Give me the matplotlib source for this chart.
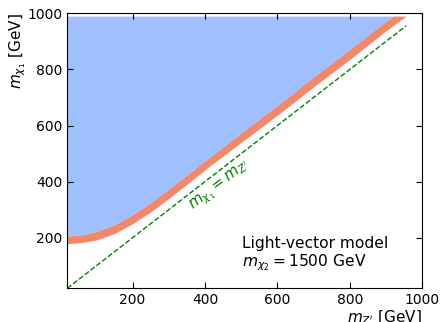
import matplotlib
matplotlib.use('Agg')
import matplotlib.pyplot as plt
import numpy as np

# Exclusion band (m_Z' in GeV)
band_x = [20, 60, 100, 150, 200, 250, 300, 414, 500, 608, 700, 802, 900, 955]
band_low = [179, 183, 192, 215, 250, 292, 340, 456, 540, 645, 738, 838, 938, 990]
band_high = [206, 210, 222, 246, 282, 325, 374, 488, 574, 680, 773, 874, 972, 1025]

diag = [20, 955]
y_top = 990

# Formatting
blue = '#a0bfff'
red = '#f0886c'

figure: plt.Figure = plt.figure(figsize=(4.41, 3.22), dpi=100)
ax: plt.Axes = figure.add_axes([0.1526, 0.1047, 0.805, 0.854])

bx = np.array(band_x, dtype=float)
lo = np.array(band_low, dtype=float)
hi = np.array(band_high, dtype=float)
fine_x = np.linspace(bx[0], bx[-1], 400)
fine_lo = np.interp(fine_x, bx, lo)
fine_hi = np.interp(fine_x, bx, hi)

# Allowed region (blue) above the band, band itself (red)
ax.fill_between(fine_x, np.minimum(fine_hi, y_top), y_top,
                color=blue, lw=0, zorder=1)
ax.fill_between(fine_x, np.minimum(fine_lo, y_top), np.minimum(fine_hi, y_top),
                color=red, lw=0, zorder=2)

ax.plot(diag, diag, color='green', ls='--', lw=1.0, zorder=3)
ax.text(442, 384, r"$m_{\chi_1} = m_{Z'}$", color='green', fontsize=11,
        rotation=38, ha='center', va='center', rotation_mode='anchor')

ax.text(503, 142, 'Light-vector model\n' + r'$m_{\chi_2} = 1500$ GeV',
        fontsize=11.2, ha='left', va='center', linespacing=1.1)

# Format
ax.set_xlim(20, 1000)
ax.set_ylim(20, 1000)
ax.set_xticks([200, 400, 600, 800, 1000])
ax.set_yticks([200, 400, 600, 800, 1000])
ax.tick_params(direction='in', top=True, right=True, length=4.5, labelsize=10)
ax.set_xlabel(r"$m_{Z'}$ [GeV]", fontsize=11, loc='right', labelpad=1)
ax.set_ylabel(r"$m_{\chi_1}$ [GeV]", fontsize=11, loc='top', labelpad=-0.5)

figure.savefig('out.png')
